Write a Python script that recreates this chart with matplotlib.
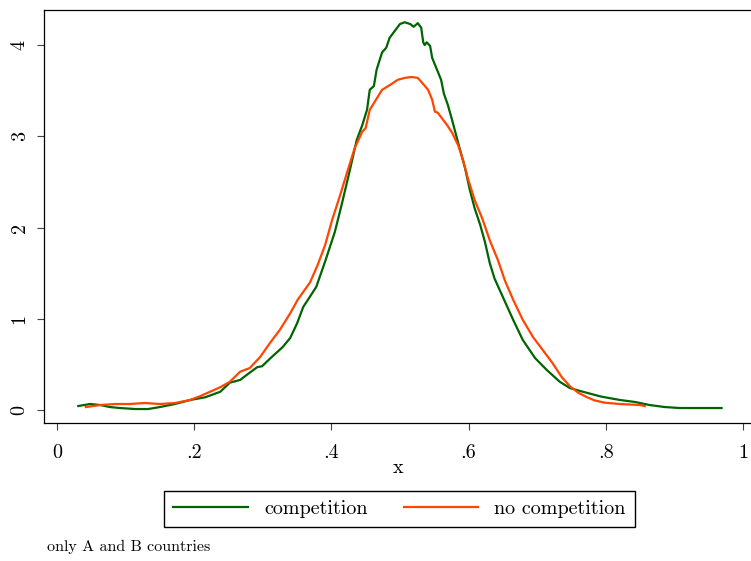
import matplotlib.pyplot as plt

# Kernel density estimates, read off as (x, density) pairs
comp_x = [0.031, 0.048, 0.063, 0.077, 0.092, 0.114, 0.133, 0.150, 0.172, 0.194,
          0.216, 0.238, 0.252, 0.267, 0.281, 0.292, 0.299, 0.310, 0.329, 0.340,
          0.350, 0.359, 0.366, 0.378, 0.391, 0.405, 0.415, 0.427, 0.437, 0.445,
          0.452, 0.456, 0.462, 0.466, 0.474, 0.480, 0.485, 0.493, 0.500, 0.507,
          0.515, 0.520, 0.526, 0.531, 0.534, 0.536, 0.539, 0.544, 0.547, 0.554,
          0.560, 0.564, 0.570, 0.576, 0.582, 0.587, 0.595, 0.602, 0.609, 0.617,
          0.624, 0.631, 0.638, 0.650, 0.665, 0.679, 0.697, 0.714, 0.733, 0.748,
          0.767, 0.792, 0.806, 0.821, 0.843, 0.864, 0.886, 0.908, 0.937, 0.969]
comp_y = [0.044, 0.066, 0.055, 0.033, 0.022, 0.011, 0.011, 0.033, 0.066, 0.110,
          0.140, 0.200, 0.300, 0.330, 0.410, 0.470, 0.480, 0.560, 0.690, 0.790,
          0.950, 1.130, 1.210, 1.350, 1.630, 1.950, 2.250, 2.630, 2.960, 3.120,
          3.290, 3.510, 3.550, 3.730, 3.920, 3.970, 4.080, 4.160, 4.230, 4.250,
          4.230, 4.200, 4.240, 4.190, 4.030, 4.000, 4.030, 3.990, 3.860, 3.730,
          3.620, 3.470, 3.340, 3.180, 3.010, 2.870, 2.650, 2.410, 2.210, 2.030,
          1.840, 1.610, 1.440, 1.240, 0.990, 0.770, 0.570, 0.440, 0.310, 0.240,
          0.200, 0.150, 0.130, 0.110, 0.088, 0.055, 0.033, 0.022, 0.022, 0.022]

nocomp_x = [0.042, 0.063, 0.085, 0.106, 0.128, 0.150, 0.172, 0.194, 0.208, 0.223,
            0.238, 0.252, 0.267, 0.281, 0.296, 0.310, 0.325, 0.340, 0.351, 0.369,
            0.380, 0.391, 0.401, 0.413, 0.424, 0.434, 0.445, 0.450, 0.456, 0.465,
            0.474, 0.485, 0.497, 0.507, 0.517, 0.526, 0.532, 0.541, 0.547, 0.551,
            0.555, 0.561, 0.569, 0.576, 0.585, 0.592, 0.599, 0.609, 0.620, 0.631,
            0.643, 0.653, 0.665, 0.679, 0.694, 0.708, 0.722, 0.736, 0.748, 0.760,
            0.773, 0.784, 0.799, 0.821, 0.850, 0.857]
nocomp_y = [0.033, 0.055, 0.066, 0.066, 0.077, 0.066, 0.077, 0.110, 0.150, 0.200,
            0.250, 0.310, 0.420, 0.460, 0.580, 0.730, 0.880, 1.060, 1.210, 1.400,
            1.590, 1.810, 2.080, 2.360, 2.630, 2.870, 3.050, 3.090, 3.290, 3.400,
            3.510, 3.560, 3.620, 3.640, 3.650, 3.640, 3.590, 3.510, 3.400, 3.270,
            3.260, 3.200, 3.120, 3.040, 2.900, 2.740, 2.540, 2.300, 2.100, 1.860,
            1.640, 1.420, 1.210, 0.990, 0.800, 0.660, 0.520, 0.360, 0.260, 0.190,
            0.140, 0.105, 0.080, 0.066, 0.055, 0.044]

x_ticks = [0, 0.2, 0.4, 0.6, 0.8, 1]
x_labels = ['0', '.2', '.4', '.6', '.8', '1']
y_ticks = [0, 1, 2, 3, 4]
y_labels = ['0', '1', '2', '3', '4']

plt.rcParams['font.family'] = ['cmr10', 'DejaVu Serif']
plt.rcParams['axes.formatter.use_mathtext'] = True

fig = plt.figure(figsize=(7.51, 5.61), dpi=100)
ax = fig.add_axes([0.0586, 0.246, 0.9424, 0.736])

ax.plot(comp_x, comp_y, color='#006400', lw=1.6, label='competition')
ax.plot(nocomp_x, nocomp_y, color='#FF4500', lw=1.6, label='no competition')

ax.set_xlim(-0.019, 1.013)
ax.set_ylim(-0.142, 4.383)
ax.set_xticks(x_ticks)
ax.set_xticklabels(x_labels, fontsize=14.5)
ax.set_yticks(y_ticks)
ax.set_yticklabels(y_labels, fontsize=14.5, rotation=90, va='center')
ax.tick_params(direction='out', length=5, width=0.8, color='#444444', pad=10)
ax.tick_params(axis='y', pad=6)
for s in ax.spines.values():
    s.set_linewidth(0.9)

ax.set_xlabel('x', fontsize=14.5, labelpad=-2)

fig.legend(loc='center', bbox_to_anchor=(0.532, 0.092), ncol=2, fontsize=14.5,
           frameon=True, fancybox=False, edgecolor='black', framealpha=1,
           handlelength=3.7, columnspacing=1.8, borderpad=0.45)
fig.text(0.063, 0.018, 'only A and B countries', fontsize=11.5)

fig.savefig('out.png', dpi=100)
